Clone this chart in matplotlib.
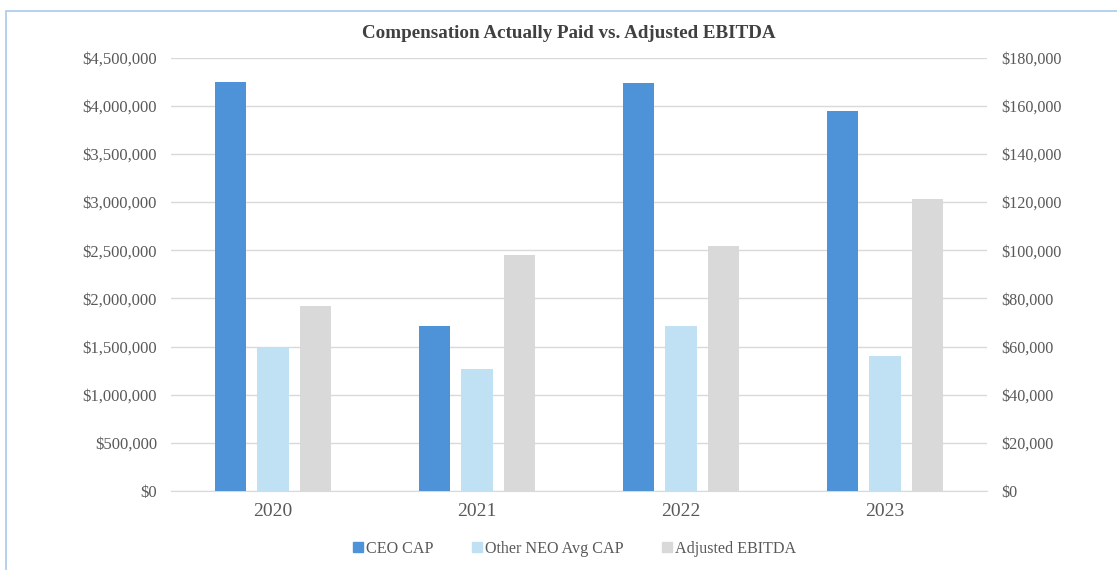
import matplotlib.pyplot as plt
import numpy as np
from matplotlib.patches import Rectangle
from matplotlib.ticker import FuncFormatter
from matplotlib.lines import Line2D

plt.rcParams["font.family"] = ["Liberation Serif", "DejaVu Serif"]

YEARS = ["2020", "2021", "2022", "2023"]
CEO_CAP = [4250000, 1715000, 4240000, 3940000]
NEO_CAP = [1498000, 1263000, 1712000, 1400000]
EBITDA = [76900, 98000, 101700, 121100]

CEO_COLOR = "#4e92d8"
NEO_COLOR = "#bfe1f3"
EB_COLOR = "#d9d9d9"
TXT = "#595959"

fig = plt.figure(figsize=(11.17, 5.7), dpi=100)
fig.patches.append(Rectangle((6 / 1117, -0.01), 1.02, 1 - 11 / 570 + 0.01,
                             transform=fig.transFigure, fill=False,
                             edgecolor="#a9c9ea", linewidth=1.2))

ax = fig.add_axes([171 / 1117, 1 - 491 / 570, 816 / 1117, (491 - 57.5) / 570])
ax2 = ax.twinx()

x = np.arange(len(YEARS))
w = 0.152
off = 0.21
ax.bar(x - off, CEO_CAP, w, color=CEO_COLOR, zorder=3)
ax.bar(x, NEO_CAP, w, color=NEO_COLOR, zorder=3)
ax2.bar(x + off, EBITDA, w, color=EB_COLOR, zorder=3)

ax.set_xlim(-0.5, 3.5)
ax.set_ylim(0, 4500000)
ax.set_yticks(np.arange(0, 4500001, 500000))
ax2.set_ylim(0, 180000)
ax2.set_yticks(np.arange(0, 180001, 20000))
fmt = FuncFormatter(lambda v, p: f"${v:,.0f}")
ax.yaxis.set_major_formatter(fmt)
ax2.yaxis.set_major_formatter(fmt)

ax.grid(axis="y", color="#d9d9d9", linewidth=1, zorder=0)
ax.set_axisbelow(True)
for a in (ax, ax2):
    for s in a.spines.values():
        s.set_visible(False)
ax.spines["bottom"].set_visible(True)
ax.spines["bottom"].set_color("#d9d9d9")

ax.set_xticks(x)
ax.set_xticklabels(YEARS)
ax.tick_params(axis="x", length=0, labelsize=14, colors=TXT, pad=9)
ax.tick_params(axis="y", length=0, labelsize=12, colors=TXT, pad=10)
ax2.tick_params(axis="y", length=0, labelsize=11.6, colors=TXT, pad=10)

fig.text(569 / 1117, 1 - 33 / 570, "Compensation Actually Paid vs. Adjusted EBITDA",
         ha="center", va="center", fontsize=13.7, fontweight="bold", color="#404040")

handles = [Line2D([], [], marker="s", linestyle="", markersize=6.5, color=c)
           for c in (CEO_COLOR, NEO_COLOR, EB_COLOR)]
fig.legend(handles, ["CEO CAP", "Other NEO Avg CAP", "Adjusted EBITDA"],
           loc="center", bbox_to_anchor=(573 / 1117, 1 - 549 / 570), ncol=3,
           frameon=False, fontsize=11.6, labelcolor=TXT, handletextpad=0.0,
           columnspacing=2.2, handlelength=1.0)

fig.savefig("out.png", dpi=100)
